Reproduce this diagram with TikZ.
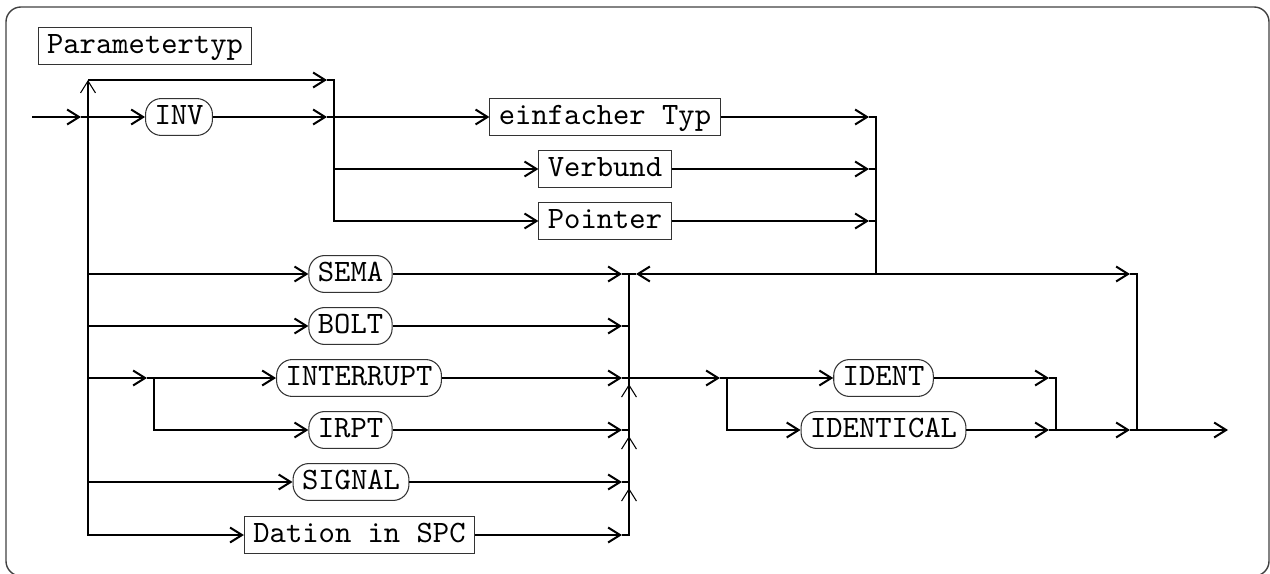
\documentclass[tikz,border=0pt]{standalone}
\usepackage{fontspec}
\usetikzlibrary{arrows.meta,calc}
\newfontfamily\dgtt{lmmono10-regular.otf}
\newcommand\dgfont{\fontsize{17.7pt}{20pt}\selectfont\dgtt}
\tikzset{
  conn/.style={line width=1.15pt, line cap=rect, line join=miter},
  arr/.style={line width=1.15pt, -{Straight Barb[length=6.8pt,width=8.5pt]}},
  uparr/.style={line width=0.6pt, -{Straight Barb[length=6.8pt,width=8.5pt]}},
  box/.style={draw=black!80, line width=0.6pt, font=\dgfont, inner xsep=5.1pt, inner ysep=0pt,
    minimum height=21pt, text height=12.5pt, text depth=3.8pt},
  term/.style={box, rounded corners=9pt},
}
\newcommand\jarr[2]{\draw[arr] #1 -- ($#2!4pt!#1$); \draw[line width=1.15pt] ($#2!4pt!#1$) -- #2;}
\begin{document}
\begin{tikzpicture}[x=0.02cm,y=-0.02cm]
\useasboundingbox (0,0) rectangle (1270,574);
\draw[black!75, line width=0.8pt, rounded corners=8.5pt] (6,7) rectangle (1269,576);

% nodes
\node[box]  (title) at (145,46)   {Parametertyp};
\node[term] (inv)   at (179,117)  {INV};
\node[box]  (einf)  at (605,117)  {einfacher Typ};
\node[box]  (verb)  at (605,169)  {Verbund};
\node[box]  (ptr)   at (605,221)  {Pointer};
\node[term] (sema)  at (350.5,274){SEMA};
\node[term] (bolt)  at (350.5,326){BOLT};
\node[term] (intr)  at (359,378)  {INTERRUPT};
\node[term] (irpt)  at (350.5,430){IRPT};
\node[term] (sig)   at (351,482)  {SIGNAL};
\node[box]  (dat)   at (359.5,535){Dation in SPC};
\node[term] (ident) at (883.5,378){IDENT};
\node[term] (idcl)  at (883.5,430){IDENTICAL};

% junction points
\coordinate (in)  at (32,117);
\coordinate (L0)  at (88,80);
\coordinate (L1)  at (88,117);
\coordinate (T)   at (334,80);
\coordinate (J)   at (334,117);
\coordinate (R1)  at (876,117);
\coordinate (Rm)  at (876,274);
\coordinate (C)   at (629,274);
\coordinate (B)   at (1137,274);
\coordinate (K)   at (154,378);
\coordinate (D)   at (727,378);
\coordinate (E)   at (1056,378);
\coordinate (out) at (1228,430);

% entry and INV part
\jarr{(in)}{(L1)}
\draw[conn] (L1) -- (L1 |- dat);
\draw[uparr] (L1) -- (L0);
\jarr{(L0)}{(T)}
\draw[arr] (L1) -- (inv);
\jarr{(inv)}{(J)}
\draw[conn] (T) -- (T |- ptr);
\draw[arr] (J) -- (einf);
\draw[arr] (J |- verb) -- (verb);
\draw[arr] (J |- ptr) -- (ptr);
\jarr{(einf)}{(R1)}
\jarr{(verb)}{(R1 |- verb)}
\jarr{(ptr)}{(R1 |- ptr)}
\draw[conn] (R1) -- (Rm);
\jarr{(Rm)}{(C)}
\jarr{(Rm)}{(B)}

% left alternatives
\draw[arr] (L1 |- sema) -- (sema);
\draw[arr] (L1 |- bolt) -- (bolt);
\jarr{(L1 |- intr)}{(K)}
\draw[arr] (K) -- (intr);
\draw[conn] (K) -- (K |- irpt);
\draw[arr] (K |- irpt) -- (irpt);
\draw[arr] (L1 |- sig) -- (sig);
\draw[arr] (L1 |- dat) -- (dat);

% exits to collector
\jarr{(sema)}{(C |- sema)}
\jarr{(bolt)}{(C |- bolt)}
\jarr{(intr)}{(C |- intr)}
\jarr{(irpt)}{(C |- irpt)}
\jarr{(sig)}{(C |- sig)}
\jarr{(dat)}{(C |- dat)}
\draw[conn] (C) -- (C |- dat);
\draw[uparr, shorten >=3.5pt] (C |- dat) -- (C |- sig);
\draw[uparr, shorten >=3.5pt] (C |- sig) -- (C |- irpt);
\draw[uparr, shorten >=3.5pt] (C |- irpt) -- (C |- intr);

% IDENT part
\jarr{(C |- intr)}{(D)}
\draw[arr] (D) -- (ident);
\draw[conn] (D) -- (D |- idcl);
\draw[arr] (D |- idcl) -- (idcl);
\jarr{(ident)}{(E)}
\jarr{(idcl)}{(E |- idcl)}
\draw[conn] (E) -- (E |- idcl);
\jarr{(E |- idcl)}{(B |- idcl)}
\draw[conn] (B) -- (B |- idcl);
\draw[arr] (B |- idcl) -- (out);
\end{tikzpicture}
\end{document}
